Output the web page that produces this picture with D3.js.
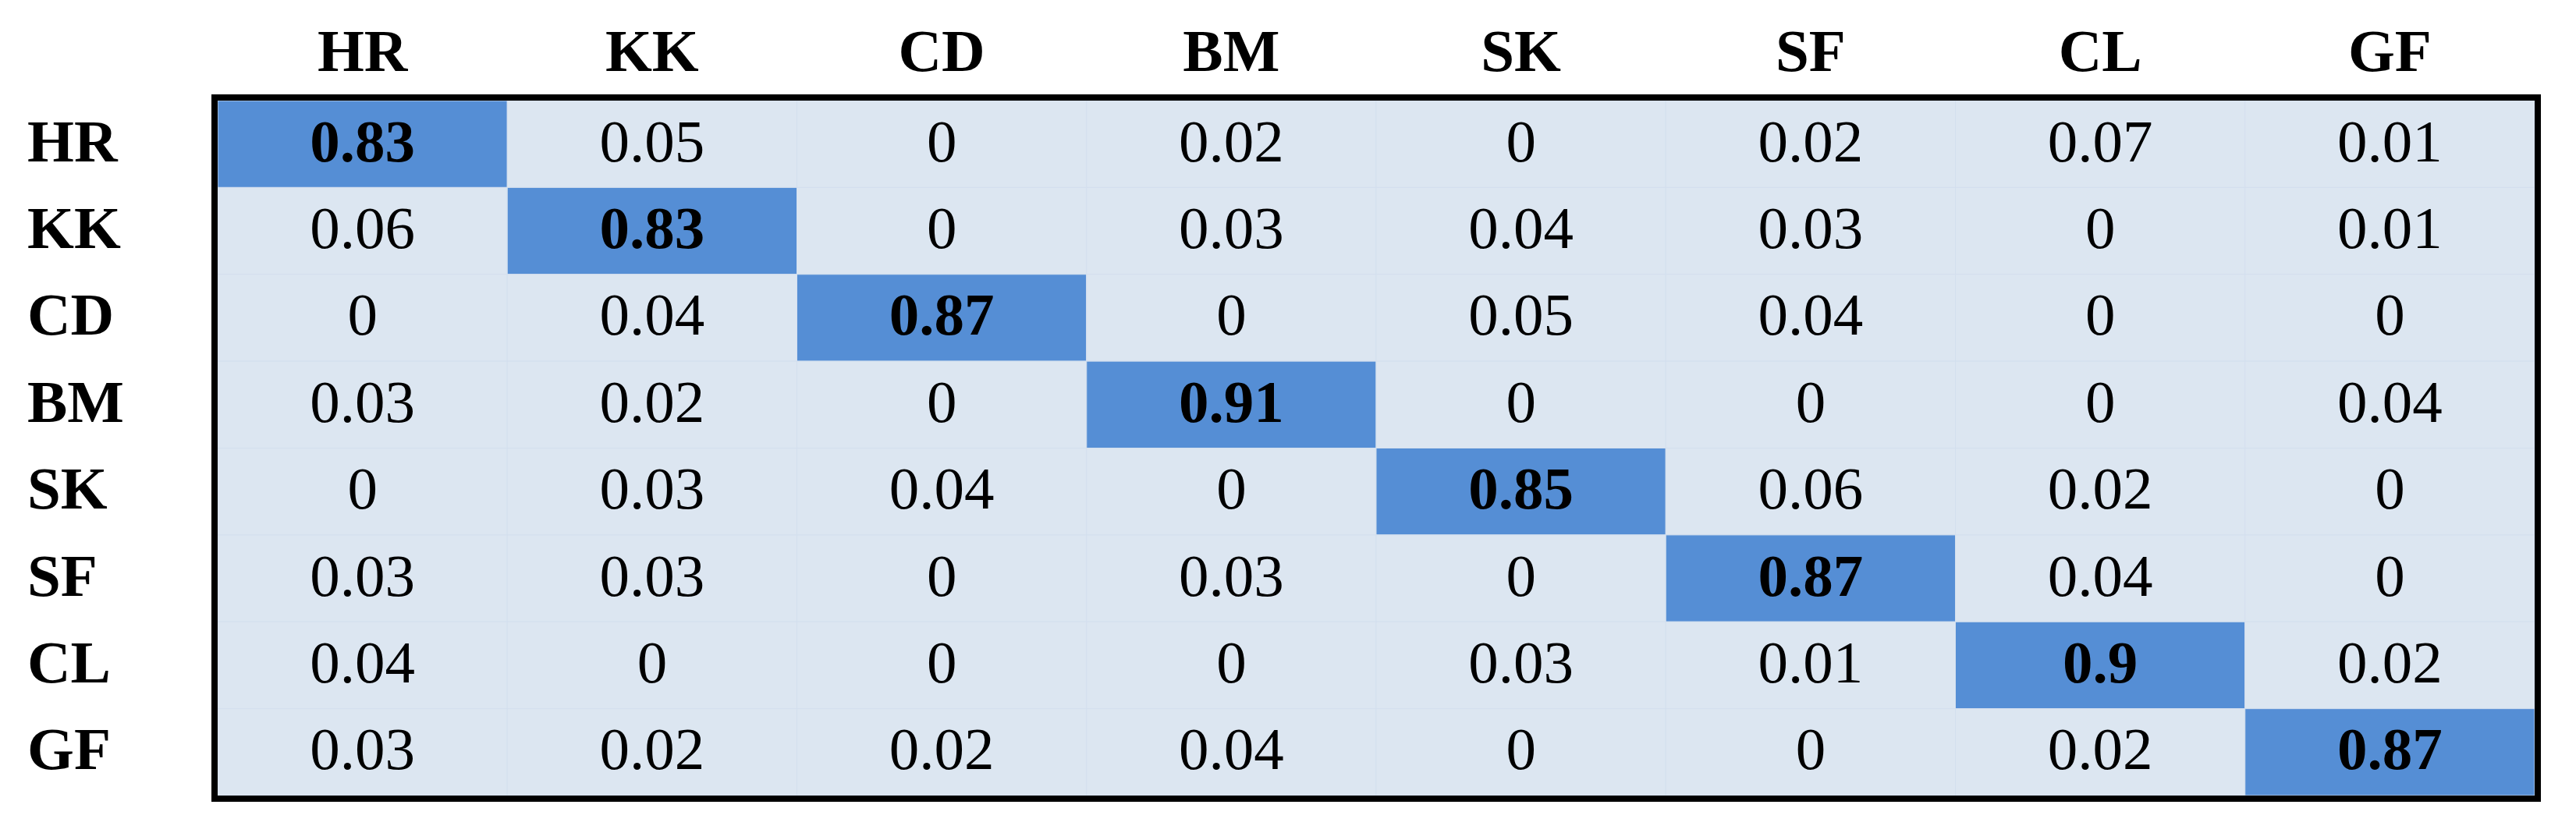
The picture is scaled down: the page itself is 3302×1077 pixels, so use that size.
<!DOCTYPE html>
<html>
<head>
<meta charset="utf-8">
<script src="https://cdn.jsdelivr.net/npm/d3@7"></script>
<style>
  html, body { margin: 0; padding: 0; background: #ffffff; }
  svg { display: block; }
</style>
</head>
<body>
<svg id="chart" width="3302" height="1077"></svg>
<script>
const classes = ["HR", "KK", "CD", "BM", "SK", "SF", "CL", "GF"];
const rowHR = [0.83, 0.05, 0, 0.02, 0, 0.02, 0.07, 0.01];
const rowKK = [0.06, 0.83, 0, 0.03, 0.04, 0.03, 0, 0.01];
const rowCD = [0, 0.04, 0.87, 0, 0.05, 0.04, 0, 0];
const rowBM = [0.03, 0.02, 0, 0.91, 0, 0, 0, 0.04];
const rowSK = [0, 0.03, 0.04, 0, 0.85, 0.06, 0.02, 0];
const rowSF = [0.03, 0.03, 0, 0.03, 0, 0.87, 0.04, 0];
const rowCL = [0.04, 0, 0, 0, 0.03, 0.01, 0.9, 0.02];
const rowGF = [0.03, 0.02, 0.02, 0.04, 0, 0, 0.02, 0.87];
const matrix = [rowHR, rowKK, rowCD, rowBM, rowSK, rowSF, rowCL, rowGF];

const svg = d3.select("#chart");
svg.append("rect").attr("width", 3302).attr("height", 1077).attr("fill", "#ffffff");

const x0 = 279, x1 = 3249, y0 = 129, y1 = 1020;
const x = d3.scaleBand().domain(classes).range([x0, x1]);
const y = d3.scaleBand().domain(classes).range([y0, y1]);

const cells = [];
matrix.forEach((row, i) => row.forEach((v, j) => cells.push({ r: classes[i], c: classes[j], v, diag: i === j })));

const FONT = "'Liberation Serif', 'Times New Roman', serif";

svg.append("g").selectAll("rect").data(cells).join("rect")
  .attr("x", d => x(d.c)).attr("y", d => y(d.r))
  .attr("width", x.bandwidth()).attr("height", y.bandwidth())
  .attr("fill", d => d.diag ? "#558ed5" : "#dce6f1")
  .attr("stroke", "#d3dfee").attr("stroke-width", 1);

svg.append("g").selectAll("text").data(cells).join("text")
  .attr("x", d => x(d.c) + x.bandwidth() / 2)
  .attr("y", d => y(d.r) + y.bandwidth() / 2 + 22)
  .attr("text-anchor", "middle")
  .attr("font-family", FONT).attr("font-size", 77)
  .attr("font-weight", d => d.diag ? "bold" : "normal")
  .attr("fill", "#000")
  .text(d => String(d.v));

// column headers
svg.append("g").selectAll("text").data(classes).join("text")
  .attr("x", d => x(d) + x.bandwidth() / 2).attr("y", 91)
  .attr("text-anchor", "middle")
  .attr("font-family", FONT).attr("font-size", 77).attr("font-weight", "bold")
  .text(d => d);

// row headers
svg.append("g").selectAll("text").data(classes).join("text")
  .attr("x", 35).attr("y", d => y(d) + y.bandwidth() / 2 + 22)
  .attr("text-anchor", "start")
  .attr("font-family", FONT).attr("font-size", 77).attr("font-weight", "bold")
  .text(d => d);

// outer border
svg.append("rect")
  .attr("x", x0 - 4).attr("y", y0 - 4)
  .attr("width", x1 - x0 + 8).attr("height", y1 - y0 + 8)
  .attr("fill", "none").attr("stroke", "#000").attr("stroke-width", 8);
</script>
</body>
</html>
